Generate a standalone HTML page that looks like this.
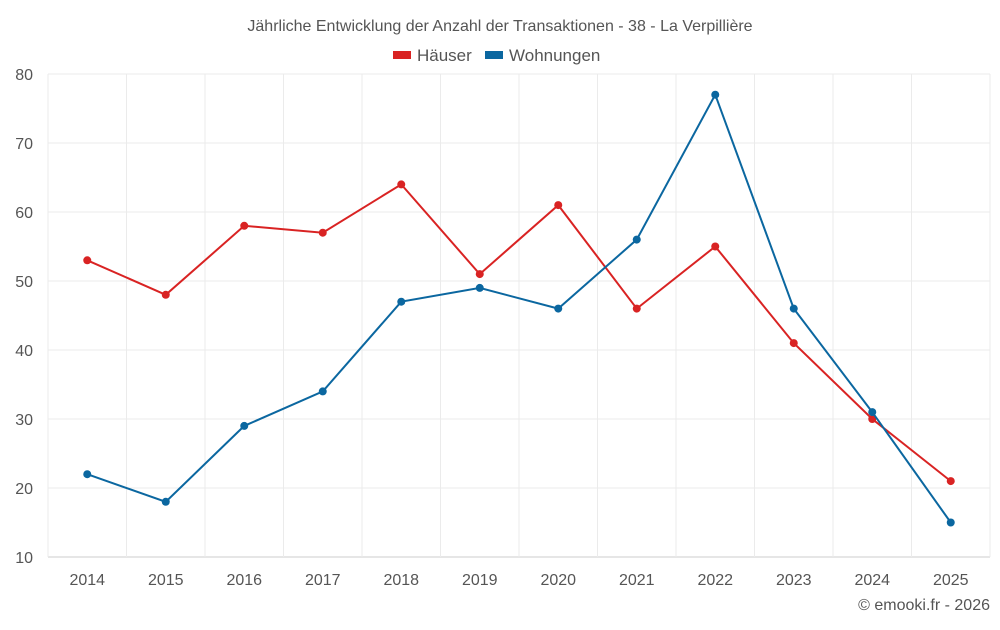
<!DOCTYPE html>
<html><head><meta charset="utf-8"><style>
body{margin:0;background:#fff;font-family:"Liberation Sans",sans-serif;}
svg text{font-family:"Liberation Sans",sans-serif;}
</style></head><body>
<svg id="chart" width="1000" height="625">
<text x="500" y="31" text-anchor="middle" font-size="16" fill="#555">Jährliche Entwicklung der Anzahl der Transaktionen - 38 - La Verpillière</text>
<g>
<g><rect x="393" y="51" width="18" height="8" fill="#d92323"/><text x="417" y="61" font-size="17" fill="#555">Häuser</text></g>
<g><rect x="485" y="51" width="18" height="8" fill="#0b67a0"/><text x="509" y="61" font-size="17" fill="#555">Wohnungen</text></g>
</g>
<g id="grid"></g><g id="axes"></g><g id="series"></g>
<text x="990" y="610" text-anchor="end" font-size="16" fill="#555">© emooki.fr - 2026</text>
</svg>
<script>
const categories=["2014","2015","2016","2017","2018","2019","2020","2021","2022","2023","2024","2025"];
const haeuser=[53,48,58,57,64,51,61,46,55,41,30,21];
const wohnungen=[22,18,29,34,47,49,46,56,77,46,31,15];
const yTicks=[10,20,30,40,50,60,70,80];
const L=48,R=990,T=74,B=557,yMin=10,yMax=80;
const bw=(R-L)/categories.length;
const x=i=>L+bw*(i+0.5);
const y=v=>B-(v-yMin)/(yMax-yMin)*(B-T);
const NS="http://www.w3.org/2000/svg";
function mk(tag,attrs,parent){const e=document.createElementNS(NS,tag);for(const k in attrs)e.setAttribute(k,attrs[k]);parent.appendChild(e);return e;}
const grid=document.getElementById('grid'),axes=document.getElementById('axes'),ser=document.getElementById('series');
yTicks.forEach(t=>{
 const l=mk('line',{x1:L,x2:R,y1:y(t),y2:y(t),stroke:t===yMin?'#ccc':'#ebebeb'},grid);
 
 
 const tx=mk('text',{x:33,y:y(t)+6,'text-anchor':'end','font-size':16,fill:'#555'},axes);tx.textContent=t;
 
 
});
for(let i=0;i<=categories.length;i++){
 const l=mk('line',{x1:L+bw*i,x2:L+bw*i,y1:T,y2:B,stroke:'#ebebeb'},grid);
 
 
}
categories.forEach((c,i)=>{
 const tx=mk('text',{x:x(i),y:585,'text-anchor':'middle','font-size':16,fill:'#555'},axes);tx.textContent=c;
 
 
});
function draw(data,color,name){
 const p=mk('polyline',{points:data.map((v,i)=>x(i)+','+y(v)).join(' '),fill:'none',stroke:color,'stroke-width':2},ser);
 
 
 data.forEach((v,i)=>{
  const c=mk('circle',{cx:x(i),cy:y(v),r:4,fill:color},ser);
  
  
 });
}
draw(haeuser,'#d92323','haeuser');
draw(wohnungen,'#0b67a0','wohnungen');
</script>
</body></html>
